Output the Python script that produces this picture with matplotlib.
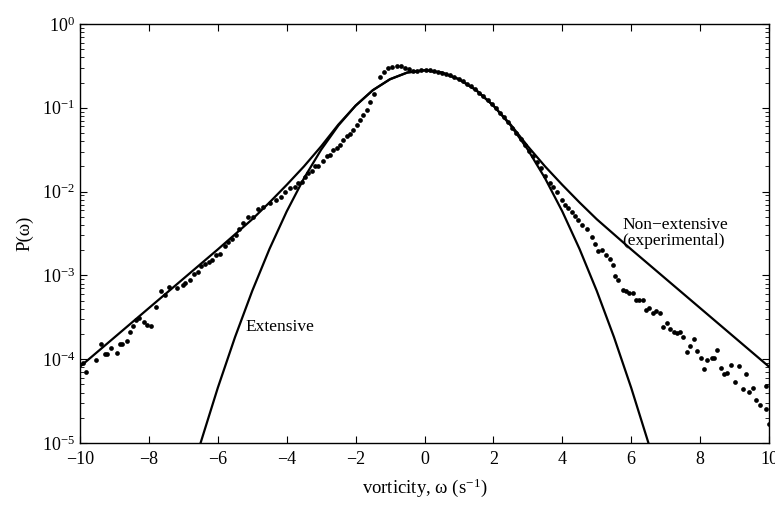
import numpy as np
import matplotlib
matplotlib.use('Agg')
import matplotlib.pyplot as plt
from matplotlib.ticker import LogLocator, NullFormatter, FixedLocator

plt.rcParams['font.family'] = ['Liberation Serif', 'DejaVu Serif']
plt.rcParams['mathtext.fontset'] = 'custom'
plt.rcParams['mathtext.rm'] = 'Liberation Serif'
plt.rcParams['mathtext.it'] = 'Liberation Serif:italic'
plt.rcParams['font.size'] = 12.5

pts_w = [
    -9.91, -9.82, -9.53, -9.40, -9.27, -9.21, -9.11, -8.92, -8.85, -8.77,
    -8.63, -8.54, -8.46, -8.36, -8.29, -8.14, -8.05, -7.93, -7.80, -7.64,
    -7.53, -7.43, -7.18, -7.01, -6.94, -6.82, -6.69, -6.58, -6.48, -6.38,
    -6.26, -6.16, -6.04, -5.95, -5.80, -5.70, -5.59, -5.46, -5.37, -5.26,
    -5.11, -4.97, -4.82, -4.68, -4.48, -4.31, -4.17, -4.05, -3.90, -3.76,
    -3.66, -3.56, -3.47, -3.37, -3.27, -3.18, -3.08, -2.94, -2.84, -2.74,
    -2.65, -2.55, -2.45, -2.36, -2.26, -2.16, -2.07, -1.97, -1.87, -1.78,
    -1.68, -1.58, -1.48, -1.29, -1.17, -1.05, -0.93, -0.81, -0.69, -0.57,
    -0.45, -0.33, -0.21, -0.09, 0.03, 0.15, 0.27, 0.39, 0.51, 0.63,
    0.75, 0.87, 0.99, 1.11, 1.23, 1.35, 1.47, 1.59, 1.71, 1.83,
    1.95, 2.07, 2.19, 2.31, 2.43, 2.55, 2.67, 2.79, 2.91, 3.03,
    3.15, 3.27, 3.39, 3.51, 3.64, 3.74, 3.84, 3.98, 4.08, 4.17,
    4.27, 4.37, 4.46, 4.56, 4.71, 4.85, 4.95, 5.04, 5.14, 5.27,
    5.37, 5.47, 5.53, 5.63, 5.75, 5.85, 5.94, 6.04, 6.14, 6.24,
    6.33, 6.43, 6.53, 6.62, 6.72, 6.84, 6.93, 7.03, 7.13, 7.24,
    7.34, 7.42, 7.51, 7.62, 7.71, 7.82, 7.92, 8.02, 8.11, 8.21,
    8.34, 8.40, 8.50, 8.60, 8.69, 8.77, 8.89, 9.01, 9.14, 9.24,
    9.33, 9.43, 9.53, 9.62, 9.74, 9.91, 9.91, 10.0,
]
pts_logp = [
    -4.05, -4.15, -4.01, -3.82, -3.94, -3.94, -3.87, -3.93, -3.82, -3.82,
    -3.78, -3.68, -3.60, -3.53, -3.51, -3.56, -3.59, -3.60, -3.38, -3.19,
    -3.23, -3.14, -3.15, -3.11, -3.09, -3.06, -2.98, -2.96, -2.89, -2.86,
    -2.84, -2.82, -2.76, -2.74, -2.65, -2.60, -2.57, -2.52, -2.45, -2.38,
    -2.30, -2.30, -2.21, -2.18, -2.14, -2.10, -2.06, -2.01, -1.96, -1.94,
    -1.90, -1.88, -1.82, -1.78, -1.76, -1.70, -1.69, -1.64, -1.58, -1.56,
    -1.50, -1.48, -1.44, -1.38, -1.34, -1.31, -1.26, -1.21, -1.15, -1.09,
    -1.03, -0.93, -0.84, -0.63, -0.57, -0.53, -0.51, -0.50, -0.50, -0.52,
    -0.54, -0.56, -0.558, -0.554, -0.553, -0.555, -0.561, -0.569, -0.580, -0.595,
    -0.612, -0.633, -0.656, -0.683, -0.712, -0.745, -0.780, -0.819, -0.861, -0.906,
    -0.953, -1.004, -1.058, -1.115, -1.175, -1.238, -1.303, -1.372, -1.444, -1.51,
    -1.58, -1.65, -1.72, -1.81, -1.90, -1.95, -2.00, -2.10, -2.16, -2.20,
    -2.24, -2.29, -2.34, -2.40, -2.45, -2.54, -2.63, -2.71, -2.70, -2.76,
    -2.80, -2.88, -3.01, -3.06, -3.18, -3.19, -3.21, -3.21, -3.29, -3.29,
    -3.29, -3.41, -3.39, -3.45, -3.43, -3.45, -3.62, -3.57, -3.64, -3.67,
    -3.69, -3.67, -3.74, -3.92, -3.84, -3.76, -3.90, -3.98, -4.12, -4.01,
    -3.99, -3.99, -3.89, -4.11, -4.18, -4.16, -4.07, -4.27, -4.08, -4.36,
    -4.18, -4.39, -4.34, -4.49, -4.55, -4.32, -4.59, -4.77,
]

# Extensive (Gaussian) curve
ext_w = [-6.7, -6.5, -6.0, -5.5, -5.0, -4.5, -4.0, -3.5, -3.0, -2.5, -2.0, -1.5,
         -1.0, -0.5, 0.0, 0.5, 1.0, 1.5, 2.0, 2.5, 3.0, 3.5, 4.0, 4.5, 5.0,
         5.5, 6.0, 6.5, 6.7]
ext_logp = [-5.28, -5.00, -4.342, -3.737, -3.185, -2.685, -2.237, -1.842, -1.500,
            -1.211, -0.974, -0.790, -0.658, -0.579, -0.553, -0.579, -0.658, -0.790,
            -0.974, -1.211, -1.500, -1.842, -2.237, -2.685, -3.185, -3.737, -4.342,
            -5.00, -5.28]

# Non-extensive (experimental) curve
nonext_w = [-10, -9, -8, -7, -6, -5, -4.5, -4, -3.5, -3, -2.5, -2, -1.5, -1,
            -0.5, 0, 0.5, 1, 1.5, 2, 2.5, 3, 3.5, 4, 4.5, 5, 6, 7, 8, 9, 10]
nonext_logp = [-4.09, -3.74, -3.39, -3.04, -2.69, -2.33, -2.13, -1.92, -1.70,
               -1.46, -1.20, -0.975, -0.79, -0.66, -0.58, -0.553, -0.58, -0.66,
               -0.79, -0.975, -1.20, -1.46, -1.70, -1.92, -2.13, -2.33, -2.69,
               -3.04, -3.39, -3.74, -4.09]

fig = plt.figure(figsize=(7.75, 5.05), dpi=100)
ax = fig.add_axes([0.1032, 0.1228, 0.8891, 0.8297])

ax.plot(ext_w, 10 ** np.array(ext_logp), color='black', lw=1.6)
ax.plot(nonext_w, 10 ** np.array(nonext_logp), color='black', lw=1.6)
ax.plot(pts_w, 10 ** np.array(pts_logp), 'o', color='black', ms=3.4, mec='none')

ax.set_yscale('log')
ax.set_xlim(-10, 10)
ax.set_ylim(1e-5, 1)
ax.xaxis.set_major_locator(FixedLocator(range(-10, 11, 2)))
ax.yaxis.set_major_locator(LogLocator(base=10, numticks=10))
ax.yaxis.set_minor_locator(LogLocator(base=10, subs=np.arange(2, 10), numticks=10))
ax.yaxis.set_minor_formatter(NullFormatter())

ax.tick_params(which='both', direction='in', top=True, right=True, labelsize=13)
ax.tick_params(which='major', length=5, width=0.8)
ax.tick_params(which='minor', length=3, width=0.6)
ax.tick_params(axis='x', pad=6)
for s in ax.spines.values():
    s.set_linewidth(1.0)

ax.set_xlabel('vorticity, ω (s$^{-1}$)', fontsize=13.5, labelpad=6)
ax.set_ylabel('P(ω)', fontsize=13.5, labelpad=6)

ax.text(-5.21, 2.4e-4, 'Extensive', ha='left', va='center', fontsize=12.5)
ax.text(5.75, 10 ** -2.50, 'Non\u2212extensive\n(experimental)', ha='left',
        va='center', fontsize=12.5, linespacing=1.0)

fig.savefig('out.png', dpi=100)
